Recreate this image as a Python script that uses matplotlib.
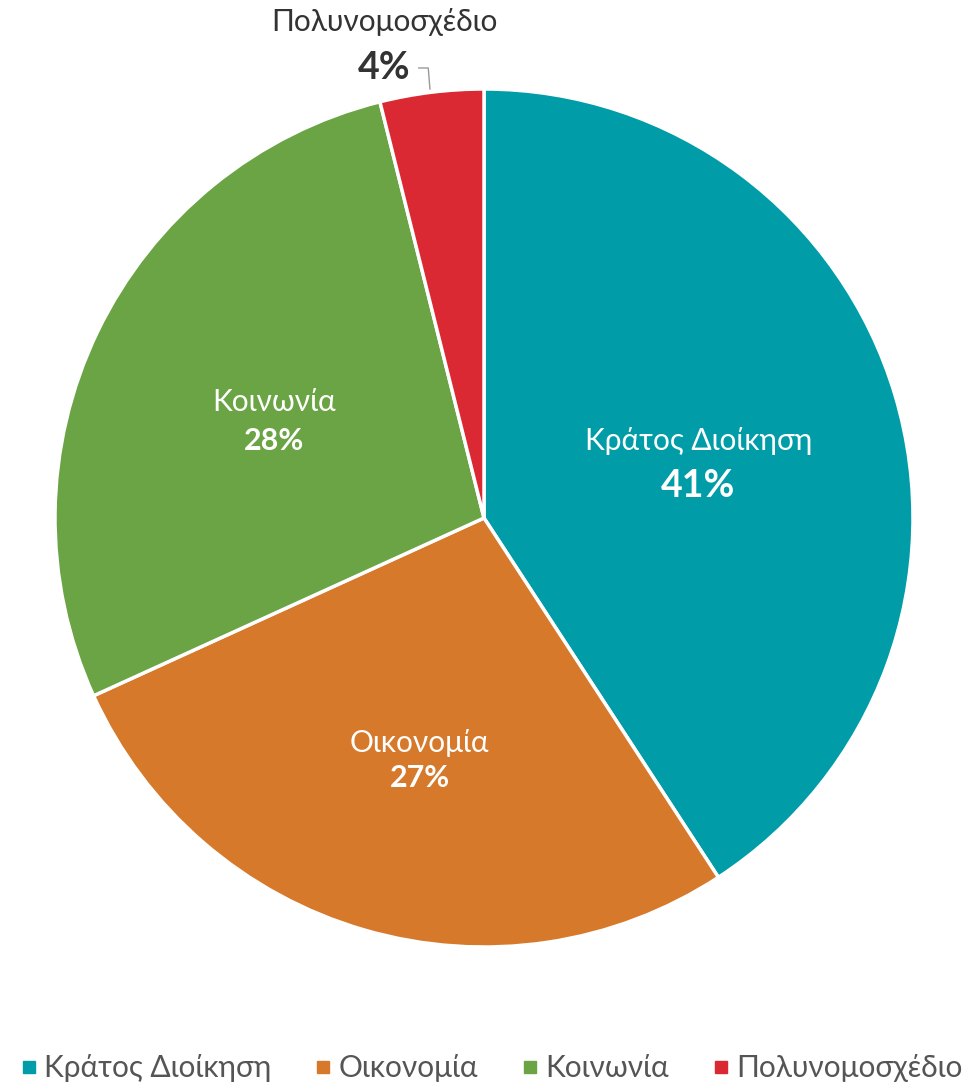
import matplotlib.pyplot as plt
from matplotlib.lines import Line2D

plt.rcParams['font.family'] = ['Lato', 'DejaVu Sans']

categories = ['Κράτος Διοίκηση', 'Οικονομία', 'Κοινωνία', 'Πολυνομοσχέδιο']
values = [40.8, 27.4, 27.9, 3.9]
pct_labels = ['41%', '27%', '28%', '4%']
colors = ['#009DA8', '#D6792A', '#6BA444', '#DA2932']

fig = plt.figure(figsize=(9.71, 10.87), dpi=100)
# pie axes placed so the circle sits where the original one does
cx, cy, r = 484 / 971, 1 - 518 / 1087, 429
ax = fig.add_axes([cx - r / 971, cy - r / 1087, 2 * r / 971, 2 * r / 1087])
wedges, _ = ax.pie(values, colors=colors, startangle=90, counterclock=False, radius=1,
                   wedgeprops=dict(edgecolor='white', linewidth=2.5))
ax.set_xlim(-1, 1)
ax.set_ylim(-1, 1)
ax.set_aspect('equal')
ax.axis('off')

# label positions (data units, relative to pie centre)
name_pos = [(0.50, 0.18), (-0.15, -0.525), (-0.49, 0.27)]
pct_pos = [(0.50, 0.075), (-0.15, -0.605), (-0.49, 0.18)]
pct_size = [27, 22, 22]
for i in range(3):
    ax.text(*name_pos[i], categories[i], color='white', fontsize=21.5,
            ha='center', va='center')
    ax.text(*pct_pos[i], pct_labels[i], color='white', fontsize=pct_size[i],
            fontweight='bold', ha='center', va='center')

# small slice: label outside with leader line
ax.text(-0.233, 1.049, pct_labels[3], color='#333333', fontsize=27, fontweight='bold',
        ha='center', va='center', clip_on=False)
ax.text(-0.233, 1.156, categories[3], color='#333333', fontsize=21.5,
        ha='center', va='center', clip_on=False)
ax.plot([-0.152, -0.13, -0.126], [1.049, 1.049, 1.0], color='#999999', lw=1, clip_on=False)

handles = [Line2D([], [], marker='s', linestyle='none', markersize=8, color=c) for c in colors]
leg = fig.legend(handles, categories, loc='center', bbox_to_anchor=(0.505, 1 - 1068 / 1087),
                 ncol=4, frameon=False, fontsize=21.5, handletextpad=0.15, columnspacing=1.4,
                 handlelength=0.7, borderaxespad=0)
for t in leg.get_texts():
    t.set_color('#555555')

fig.savefig('out.png', dpi=100)
